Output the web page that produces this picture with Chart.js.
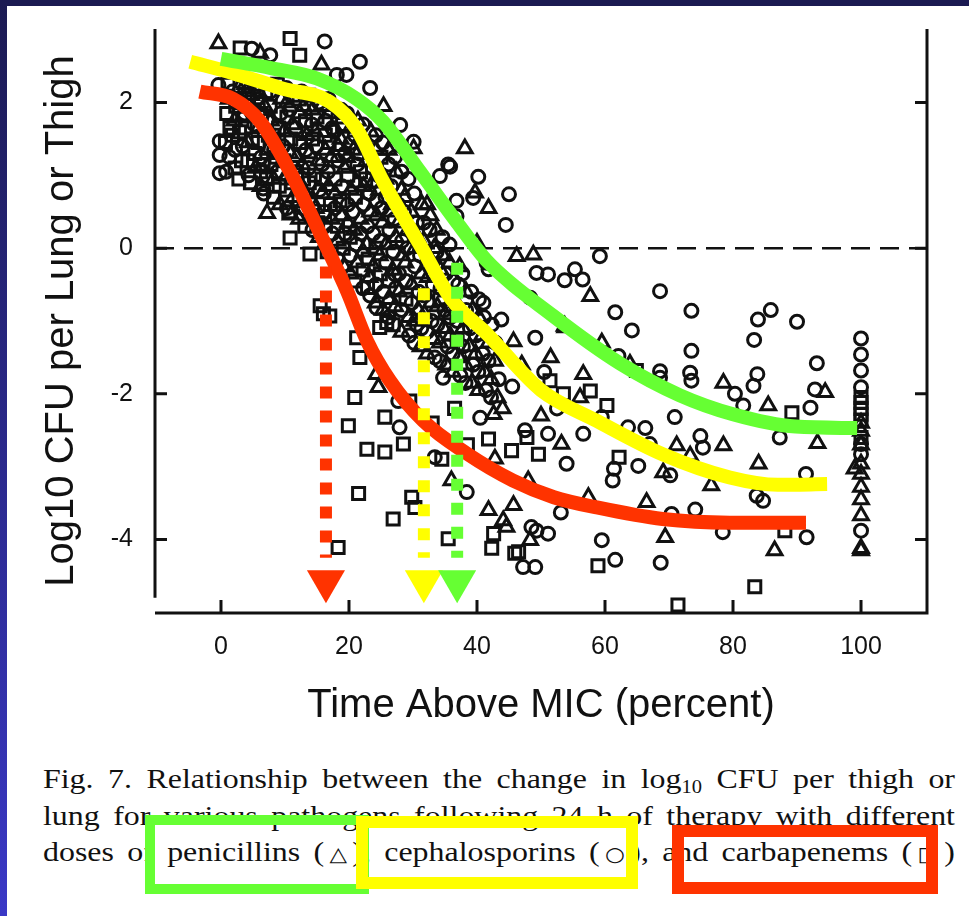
<!DOCTYPE html>
<html>
<head>
<meta charset="utf-8">
<script src="https://cdn.jsdelivr.net/npm/chart.js@4.4.1/dist/chart.umd.min.js"></script>
<style>
  body { margin: 0; width: 969px; height: 916px; overflow: hidden; position: relative; background: #fff; }
  #topbar { position: absolute; left: 0; top: 0; width: 969px; height: 6px; background: #1b1a52; z-index: 3; }
  #leftbar { position: absolute; left: 0; top: 0; width: 7px; height: 916px; background: linear-gradient(#1b1a52, #3a38c6); z-index: 3; }
  #chartBox { position: absolute; left: 0; top: 0; width: 969px; height: 740px; }
  .cap { position: absolute; left: 43px; width: 800px; font: 28px "Liberation Serif", "Times New Roman", serif; line-height: 32px;
         color: #111; text-align: justify; text-align-last: justify; white-space: nowrap;
         transform: scaleX(1.14); transform-origin: 0 0; }
  .cap sub { font-size: 18px; line-height: 0; vertical-align: -5px; }
  .sym { font-family: "DejaVu Sans", sans-serif; font-size: 20px; }
  .box { position: absolute; box-sizing: border-box; border: 11px solid; z-index: 2; }
</style>
</head>
<body>
<div id="topbar"></div>
<div id="leftbar"></div>
<div id="chartBox"><canvas id="myChart" width="969" height="740"></canvas></div>

<div class="cap" style="top:763px">Fig. 7. Relationship between the change in log<sub>10</sub> CFU per thigh or</div>
<div class="cap" style="top:800px">lung for various pathogens following 24 h of therapy with different</div>
<div class="cap" style="top:836px">doses of penicillins (<span class="sym">△</span>), cephalosporins (<span class="sym">○</span>), and carbapenems (<span class="sym">□</span>)</div>
<div class="box" style="left:145px;top:815px;width:224px;height:79px;border-width:10px;border-color:#66ff33"></div>
<div class="box" style="left:356px;top:816px;width:282px;height:73px;border-width:12px;border-color:#ffff00"></div>
<div class="box" style="left:672px;top:825px;width:266px;height:69px;border-width:12px;border-color:#ff3300"></div>

<script>
var xTicks = [0, 20, 40, 60, 80, 100];
var yTicks = [-4, -2, 0, 2];
var xMin = -10.31, xMax = 110.31;
var yMin = -5.01, yMax = 3.01;

// penicillins (triangles)
var penicillins = [
  [1.2,2.05],[3.3,1.8],[2.8,2.2],[5.4,1.1],[4.7,2.1],[7.3,1.35],[6.8,1.95],[9.2,0.6],[8.7,1.45],[9.4,2.05],
  [11.3,0.7],[10.8,1.3],[11.2,1.7],[13.2,0.75],[12.7,1.15],[13.4,1.55],[12.9,1.95],[15.3,0.15],[14.8,0.55],[15.2,1.2],
  [14.7,1.6],[17.3,0.4],[16.8,0.85],[17.2,1.25],[16.9,1.85],[19.2,-0.25],[18.8,0.45],[19.3,1.1],[18.7,1.5],[21.3,-0.2],
  [20.8,0.25],[21.2,0.9],[20.7,1.35],[21.4,1.75],[23.2,-0.4],[22.8,0.05],[23.3,0.5],[22.7,1.2],[23.4,1.6],[25.3,-0.85],
  [24.8,-0.1],[25.2,0.35],[24.7,0.8],[27.2,-0.8],[26.8,-0.3],[27.3,0.15],[26.7,0.6],[27.4,1.05],[29.3,-0.95],[28.8,-0.2],
  [29.2,0.25],[28.7,0.7],[31.2,-1.35],[30.8,-0.85],[31.3,-0.35],[30.7,0.15],[31.4,0.6],[33.2,-1.25],[32.8,-0.75],[33.3,0.0],
  [32.7,0.45],[35.2,-1.6],[34.8,-1.1],[35.3,-0.6],[34.7,-0.1],[37.2,-1.5],[36.8,-0.75],[37.3,-0.25],[39.2,-1.85],[38.8,-1.35],
  [39.3,-0.85],[41.2,-1.7],[40.8,-1.2],[43.2,-2.05],[42.8,-1.55],
  [2.1,1.75],[4.2,1.45],[3.8,2.25],[6.2,0.85],[5.8,1.65],[8.2,0.95],[7.8,1.75],[10.2,1.0],[9.8,1.6],[10.3,2.0],
  [12.2,0.4],[11.8,1.25],[12.3,1.85],[14.2,0.65],[13.8,1.3],[14.3,1.9],[16.2,0.05],[15.8,0.75],[16.3,1.35],[15.7,1.95],
  [18.2,0.1],[17.8,0.75],[18.3,1.4],[20.2,-0.35],[19.8,0.35],[20.3,0.8],[19.7,1.25],[20.2,1.65],[22.2,-0.05],[21.8,0.4],
  [22.3,0.85],[21.7,1.5],[24.2,-0.75],[23.8,-0.25],[24.3,0.45],[23.7,0.9],[24.2,1.35],[26.2,-0.7],[25.8,0.05],[26.3,0.5],
  [25.7,0.95],[26.2,1.35],[28.2,-1.15],[27.8,-0.6],[28.3,-0.1],[27.7,0.35],[28.2,0.8],[30.2,-1.0],[29.8,-0.5],[30.3,0.0],
  [29.7,0.5],[32.2,-1.45],[31.8,-0.9],[32.3,-0.4],[31.7,0.1],[32.2,0.6],[34.2,-1.3],[33.8,-0.8],[34.3,-0.3],[33.7,0.25],
  [36.2,-1.7],[35.8,-1.2],[36.3,-0.7],[35.7,-0.2],[38.2,-1.6],[37.8,-1.1],[38.3,-0.6],[40.2,-1.95],[39.8,-1.45],[40.3,-0.95],
  [42.2,-1.8],[41.8,-1.3],
  [-0.4,2.81],[6.1,2.68],[15.7,2.52],[25.4,1.95],[30.1,1.37],[7.2,0.48],[10.9,0.46],[4.0,2.15],[5.8,2.15],
  [38.1,1.37],[39.7,0.76],[41.8,0.55],[40.0,0.07],[46.2,-0.11],[48.8,-0.09],[57.7,-0.66],[53.8,-1.09],[59.5,-1.3],[63.9,-1.59],
  [56.6,-1.73],[45.7,-1.28],[35.0,-0.91],[24.6,-1.91],[24.3,-1.73],[42.8,-2.89],[48.0,-3.19],[36.0,-3.19],[41.8,-3.6],[45.7,-3.53],
  [44.6,-3.83],[42.6,-2.28],[44.1,-3.74],[53.7,-1.07],[56.1,-2.05],[78.5,-1.85],[85.5,-2.16],[94.4,-1.98],[93.2,-2.68],[71.2,-2.71],
  [78.5,-2.71],[73.3,-2.85],[53.2,-2.69],[84.0,-2.96],[76.6,-3.26],[69.1,-3.08],[57.4,-3.42],[66.5,-3.49],[69.4,-3.97],[86.5,-4.15],
  [48.3,-4.01],[44.0,-2.2],[47.0,-1.6],[50.0,-2.3],[51.5,-1.5],
  [100,-2.4],[100,-2.51],[100,-2.7],[100,-2.96],[99,-3.03],[100,-3.1],[100,-3.28],[100,-3.45],[100,-3.67],[100,-4.12],[100,-4.15]
];

// cephalosporins (circles)
var cephalosporins = [
  [0.8,1.05],[1.3,1.25],[3.4,1.4],[5.2,1.7],[4.8,2.3],[6.7,0.75],[7.2,1.75],[8.8,1.05],[9.3,1.85],[11.4,1.1],
  [10.7,1.9],[12.8,0.55],[13.3,1.35],[12.6,2.15],[15.4,0.8],[14.9,1.4],[15.3,2.0],[17.4,0.2],[16.7,1.05],[17.4,1.65],
  [16.8,2.05],[19.4,0.2],[18.9,0.85],[19.4,1.3],[18.8,1.9],[21.1,0.05],[20.6,0.5],[21.3,1.15],[20.9,1.55],[23.3,-0.65],
  [22.9,0.3],[23.2,0.75],[22.6,1.4],[25.4,-0.6],[24.9,0.1],[25.1,0.55],[24.6,1.0],[25.3,1.45],[27.3,-0.55],[26.9,-0.05],
  [27.1,0.4],[26.6,0.85],[27.2,1.25],[29.4,-1.2],[28.9,-0.45],[29.1,0.0],[28.6,0.5],[29.3,0.95],[31.3,-1.1],[30.9,-0.6],
  [31.1,-0.1],[30.6,0.35],[33.4,-1.5],[32.9,-1.0],[33.1,-0.5],[32.6,0.25],[35.4,-1.35],[34.9,-0.85],[35.1,-0.35],[34.6,0.15],
  [37.4,-1.75],[36.9,-1.0],[37.1,-0.5],[39.4,-1.6],[38.9,-1.1],[39.1,-0.6],[41.4,-1.95],[40.9,-1.45],[41.1,-0.95],[43.4,-1.8],
  [42.9,-1.3],
  [2.2,1.35],[1.8,2.15],[4.3,1.0],[3.7,1.85],[6.3,1.25],[5.7,2.05],[8.3,1.35],[7.7,2.15],[10.3,0.55],[9.7,1.4],
  [10.2,2.2],[12.3,0.85],[11.7,1.65],[14.3,0.25],[13.7,1.1],[14.2,1.7],[16.2,0.3],[15.8,1.15],[16.3,1.75],[18.2,-0.15],
  [17.8,0.55],[18.3,1.2],[17.7,1.6],[20.2,-0.1],[19.8,0.6],[20.3,1.45],[19.7,1.85],[22.2,-0.55],[21.8,0.2],[22.3,0.6],
  [21.7,1.3],[22.2,1.7],[24.2,-0.5],[23.8,0.2],[24.3,0.65],[23.7,1.1],[24.2,1.55],[26.2,-0.95],[25.8,-0.2],[26.3,0.25],
  [25.7,0.7],[26.2,1.15],[28.2,-0.85],[27.8,-0.35],[28.3,0.1],[27.7,0.6],[28.2,1.05],[30.2,-1.3],[29.8,-0.75],[30.3,-0.25],
  [29.7,0.25],[30.2,0.75],[32.2,-1.15],[31.8,-0.65],[32.3,-0.15],[31.7,0.35],[34.2,-1.55],[33.8,-1.05],[34.3,-0.55],[33.7,-0.05],
  [36.2,-1.45],[35.8,-0.95],[36.3,-0.45],[35.7,0.05],[38.2,-1.85],[37.8,-1.35],[38.3,-0.85],[37.7,-0.35],[40.2,-1.7],[39.8,-1.2],
  [40.3,-0.7],[42.2,-2.05],[41.8,-1.55],[42.3,-1.05],
  [4.8,2.74],[7.7,2.65],[16.2,2.84],[21.7,2.56],[18.1,2.38],[19.6,2.38],[23.3,2.2],[28.0,1.69],[30.1,1.46],[34.2,0.99],
  [35.5,1.15],[-0.4,2.24],[-0.2,1.28],[-0.2,1.03],[-0.2,1.47],[6.6,0.82],
  [35.8,1.12],[40.2,0.98],[45.0,0.74],[44.5,0.32],[39.4,0.69],[36.8,0.65],[36.8,0.44],[59.2,-0.11],[49.3,-0.34],[51.1,-0.36],
  [53.7,-0.44],[55.3,-0.29],[56.5,-0.43],[68.6,-0.59],[73.5,-0.86],[61.6,-0.88],[64.2,-1.13],[73.5,-1.41],[48.3,-0.68],[49.1,-1.23],
  [41.0,-0.75],[43.8,-0.98],[41.5,-0.2],[41.8,-0.29],[68.6,-1.69],[68.6,-1.78],[62.1,-1.48],
  [24.3,-0.82],[27.9,-2.46],[33.4,-2.87],[38.4,-3.35],[47.2,-4.38],[27.2,-0.36],[40.5,-2.33],[48.5,-3.83],[27.7,-2.1],[34.7,-1.78],
  [30.6,-1.05],[45.5,-1.9],[47.5,-2.5],[50.5,-1.7],[52.5,-2.2],
  [83.9,-0.98],[85.9,-0.85],[90.0,-1.01],[83.3,-1.26],[93.1,-1.58],[73.3,-1.71],[73.5,-1.82],[83.8,-1.73],[83.2,-1.89],[80.3,-2.0],
  [81.6,-2.16],[92.8,-1.94],[92.1,-2.19],[59.5,-2.32],[63.6,-2.46],[66.3,-2.47],[67.0,-2.69],[70.9,-2.32],[74.9,-2.58],[75.3,-2.74],
  [87.3,-2.6],[61.4,-3.03],[61.2,-3.19],[70.2,-3.12],[65.2,-2.99],[54.0,-2.96],[53.1,-3.63],[49.3,-3.88],[51.1,-3.92],[59.5,-4.01],
  [61.6,-4.28],[68.7,-4.32],[74.1,-3.59],[70.4,-3.65],[78.4,-3.9],[84.7,-3.47],[83.7,-3.4],[91.4,-3.1],[91.5,-3.97],[56.6,-2.55],
  [51.1,-2.55],[49.1,-4.38],
  [100,-1.24],[100,-1.46],[100,-1.68],[100,-1.91],[100,-2.69],[100,-2.83],[100,-3.88]
];

// carbapenems (squares)
var carbapenems = [
  [0.7,1.45],[1.4,1.65],[0.9,1.85],[1.1,2.25],[2.8,0.95],[3.2,1.2],[2.9,1.6],[3.1,2.0],[4.6,0.9],[5.3,1.3],
  [4.9,1.5],[5.1,1.9],[7.1,0.95],[6.6,1.15],[7.4,1.55],[7.0,2.15],[9.1,0.85],[8.6,1.25],[9.0,1.65],[8.8,2.25],
  [10.6,0.5],[11.1,0.9],[10.9,1.5],[11.3,2.1],[13.1,0.3],[12.9,0.95],[13.2,1.75],[15.1,0.35],[14.6,1.0],[15.0,1.8],
  [16.6,-0.05],[17.1,0.6],[16.9,1.45],[19.1,0.0],[18.6,0.65],[19.0,1.7],[20.9,-0.45],[21.0,0.7],[23.0,-0.15],[22.6,0.95],
  [24.9,-0.35],[25.0,1.25],[26.9,-1.05],[28.9,-0.7],[32.9,-0.25],[36.9,-1.25],
  [2.2,1.1],[1.8,1.55],[2.3,1.95],[4.2,1.2],[3.8,1.65],[4.3,2.05],[6.2,1.05],[5.8,1.45],[6.3,1.85],[5.7,2.25],
  [8.2,0.7],[7.8,1.15],[8.3,1.55],[7.7,1.95],[10.2,0.8],[9.8,1.2],[10.3,1.8],[12.2,0.65],[11.8,1.05],[12.3,1.45],
  [12.2,2.05],[14.2,0.45],[13.8,0.9],[14.3,1.5],[13.7,2.1],[16.2,0.5],[15.8,0.95],[16.3,1.55],[18.2,0.3],[17.8,0.95],
  [18.3,1.8],[20.2,0.15],[19.8,1.0],[22.2,-0.3],[21.8,1.05],[24.2,0.0],[26.2,-0.45],[34.2,-0.7],
  [3.0,2.75],[10.8,2.88],[12.3,2.65],[10.8,0.14],[13.9,-0.08],[15.5,-0.79],[16.0,-0.9],[17.0,-0.93],[22.9,-0.54],[21.7,-1.5],
  [20.9,-2.05],[19.9,-2.44],[25.6,-2.32],[22.8,-2.76],[25.6,-2.8],[28.5,-2.69],[21.5,-3.37],[26.9,-3.72],[29.8,-3.42],[30.3,-3.56],
  [35.5,-3.99],[18.3,-4.11],[25.9,-1.02],[24.8,-1.09],[41.8,-2.62],[45.4,-2.78],[42.6,-3.92],[46.5,-4.17],[47.8,-2.6],[21.2,-1.23],
  [42.3,-4.12],[45.9,-4.19],[29.5,-2.1],[33.0,-2.4],[36.5,-2.2],[38.5,-2.7],[34.5,-2.9],
  [89.2,-2.26],[49.6,-2.83],[58.9,-4.36],[71.4,-4.9],[83.4,-4.65],[60.3,-2.16],[53.5,-2.0],[51.4,-1.82],[64.9,-1.68],[57.7,-1.96],
  [62.2,-2.87],[88.1,-3.88],
  [100,-2.05],[100,-2.12],[100,-2.2],[100,-2.28],[100,-2.36],[100,-2.6]
];

// fitted curves
var penicillinFit = [[0,2.6],[8,2.47],[15,2.33],[21.2,2.05],[25.3,1.74],[31.1,1.05],[36.9,0.35],[41.6,-0.18],
  [51.9,-0.93],[62.3,-1.58],[71.7,-2.02],[80,-2.28],[89.8,-2.45],[99.4,-2.47]];
var cephalosporinFit = [[-4.8,2.56],[2,2.4],[9.7,2.19],[17,2.01],[21.2,1.64],[25.3,0.92],[31.4,0.0],[36,-0.7],[41.6,-1.18],
  [50,-1.95],[58.7,-2.37],[69,-2.83],[79.5,-3.15],[87,-3.25],[94.7,-3.24]];
var carbapenemFit = [[-3.3,2.15],[1.9,2.05],[6.1,1.74],[10.8,1.05],[16.3,0.05],[19.7,-0.59],[22.8,-1.27],[26.4,-1.82],
  [31.6,-2.37],[38.4,-2.82],[45.6,-3.19],[52,-3.42],[58.7,-3.56],[69,-3.72],[79.5,-3.77],[91.4,-3.77]];

// time-above-MIC breakpoints (carbapenems, cephalosporins, penicillins)
var breakX = [16.4, 31.7, 36.9];
var breakTop = [-0.25, -0.55, -0.2];
var breakBottom = -4.25;
var arrowY = -4.575;

var GREEN = '#66ff33', YELLOW = '#ffff00', RED = '#ff3300';
var breakColors = [RED, YELLOW, GREEN];
var FONT = '"Liberation Sans", Arial, sans-serif';

function pts(a) { return a.map(function (p) { return { x: p[0], y: p[1] }; }); }

function markers(data, style, r) {
  return { data: pts(data), pointStyle: style, pointRadius: r, borderColor: '#111',
           backgroundColor: 'rgba(0,0,0,0)', borderWidth: 3, order: 4 };
}

function fitLine(data, color) {
  return { type: 'line', data: pts(data), borderColor: color, borderWidth: 14, pointRadius: 0,
           cubicInterpolationMode: 'monotone', borderCapStyle: 'butt', fill: false, order: 2 };
}

var datasets = [
  { type: 'line', data: [{ x: xMin, y: 0 }, { x: xMax, y: 0 }], borderColor: '#111', borderWidth: 2.5,
    borderDash: [19, 10], pointRadius: 0, order: 5 },
  markers(penicillins, 'triangle', 8.5),
  markers(cephalosporins, 'circle', 6.5),
  markers(carbapenems, 'rect', 8.5),
  fitLine(penicillinFit, GREEN),
  fitLine(cephalosporinFit, YELLOW),
  fitLine(carbapenemFit, RED)
];

breakX.forEach(function (x, i) {
  datasets.push({ type: 'line', data: [{ x: x, y: breakTop[i] }, { x: x, y: breakBottom }],
    borderColor: breakColors[i], borderWidth: 12, borderDash: [12, 12], borderCapStyle: 'butt',
    pointRadius: 0, order: 1 });
});

datasets.push({ data: breakX.map(function (x) { return { x: x, y: arrowY }; }), pointStyle: 'triangle',
  rotation: 180, pointRadius: 22, pointBackgroundColor: breakColors, borderWidth: 0, order: 0 });

var frame = {
  id: 'frame',
  afterDatasetsDraw: function (chart) {
    var ctx = chart.ctx, a = chart.chartArea, x = chart.scales.x, y = chart.scales.y;
    ctx.save();
    ctx.strokeStyle = '#111';
    ctx.lineWidth = 3;
    ctx.beginPath();
    ctx.moveTo(a.left, a.top); ctx.lineTo(a.left, y.getPixelForValue(-4.8));
    ctx.moveTo(a.left, a.bottom); ctx.lineTo(a.right + 1.5, a.bottom);
    ctx.moveTo(a.right, a.top); ctx.lineTo(a.right, a.bottom);
    yTicks.forEach(function (v) {
      var p = y.getPixelForValue(v);
      ctx.moveTo(a.left, p); ctx.lineTo(a.left + 12, p);
      ctx.moveTo(a.right, p); ctx.lineTo(a.right - 12, p);
    });
    xTicks.forEach(function (v) {
      var p = x.getPixelForValue(v);
      ctx.moveTo(p, a.bottom); ctx.lineTo(p, a.bottom - 13);
    });
    ctx.stroke();
    ctx.restore();
  }
};

var ctx = document.getElementById('myChart').getContext('2d');
var myChart = new Chart(ctx, {
  type: 'scatter',
  data: { datasets: datasets },
  options: {
    responsive: false,
    animation: false,
    events: [],
    layout: { padding: { left: 7, top: 27, right: 42, bottom: 0 } },
    plugins: { legend: { display: false }, tooltip: { enabled: false } },
    scales: {
      x: {
        type: 'linear', min: xMin, max: xMax,
        afterBuildTicks: function (s) { s.ticks = xTicks.map(function (v) { return { value: v }; }); },
        afterFit: function (s) { s.height = 127; },
        grid: { display: false },
        border: { display: false },
        ticks: { font: { family: FONT, size: 25 }, color: '#111', padding: 11, maxRotation: 0 },
        title: { display: true, text: 'Time Above MIC (percent)', color: '#111',
                 font: { family: FONT, size: 40 }, padding: { top: 0, bottom: 10 } }
      },
      y: {
        type: 'linear', min: yMin, max: yMax,
        afterBuildTicks: function (s) { s.ticks = yTicks.map(function (v) { return { value: v }; }); },
        afterFit: function (s) { s.width = 148; },
        grid: { display: false },
        border: { display: false },
        ticks: { font: { family: FONT, size: 25 }, color: '#111', padding: 14 },
        title: { display: true, text: 'Log10 CFU per Lung or Thigh', color: '#111',
                 font: { family: FONT, size: 40 }, padding: { top: 31, bottom: 0 } }
      }
    }
  },
  plugins: [frame]
});
</script>
</body>
</html>
